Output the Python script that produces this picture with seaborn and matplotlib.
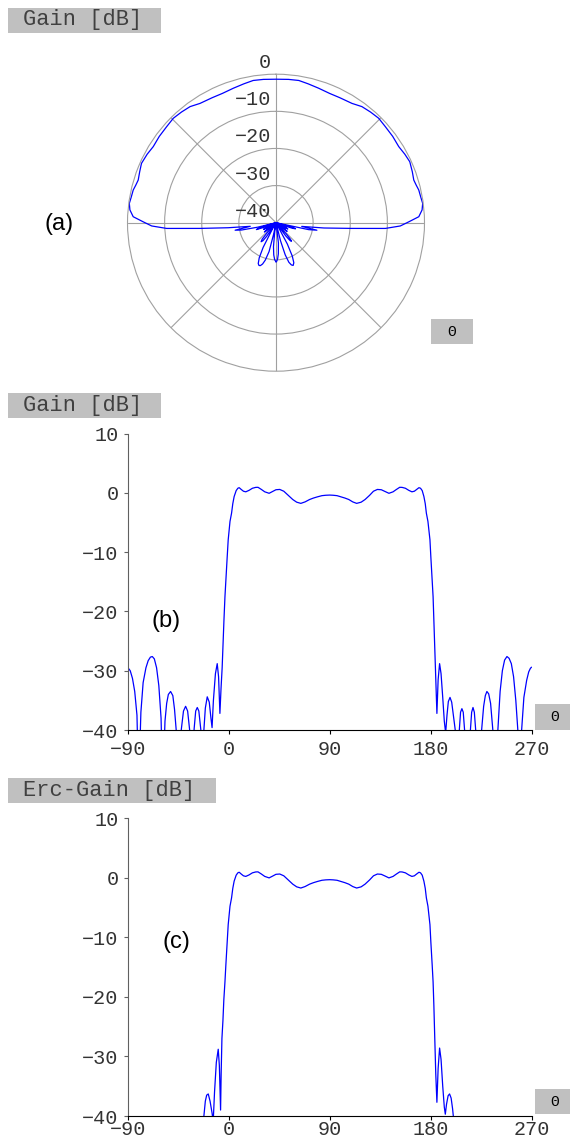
import numpy as np
import pandas as pd
import matplotlib
matplotlib.use("Agg")
import matplotlib.pyplot as plt
from matplotlib.patches import Rectangle
from matplotlib.transforms import offset_copy
import seaborn as sns

W, H = 570, 1141

# ---------------- data ----------------
# main beam, shared by (b) and (c)
main_theta = [-3.5, -2.7, -1.5, -0.6, 1.0, 2.4, 3.5, 4.7, 6.5, 8.0, 9.2, 11.0, 13.0, 15.1,
              18.0, 21.0, 24.0, 26.0, 29.0, 32.0, 35.9, 39.0, 42.0, 45.4, 49.0, 53.0, 57.0,
              60.5, 64.2, 68.0, 72.0, 75.5, 79.0, 83.0, 86.5, 90.0, 93.0, 96.5, 100.0, 103.5,
              107.0, 110.5, 114.0, 118.0, 121.5, 125.5, 129.0, 132.5, 136.0, 139.5, 142.8,
              146.5, 149.5, 152.4, 154.5, 157.5, 160.5, 163.3, 165.5, 167.5, 169.6, 171.0,
              172.5, 174.0, 175.2, 176.2, 177.6, 179.4, 180.2, 181.4, 182.2]
main_gain = [-17.5, -14.7, -10.8, -7.9, -4.8, -3.4, -1.8, -0.6, 0.4, 0.8, 0.9, 0.6, 0.3, 0.2,
             0.45, 0.8, 0.95, 0.96, 0.6, 0.2, -0.05, 0.25, 0.55, 0.6, 0.3, -0.4, -1.1,
             -1.55, -1.75, -1.5, -1.1, -0.85, -0.65, -0.45, -0.38, -0.35, -0.38, -0.45, -0.65, -0.85,
             -1.1, -1.5, -1.75, -1.55, -1.1, -0.4, 0.3, 0.6, 0.55, 0.25, -0.05,
             0.2, 0.6, 0.96, 0.95, 0.8, 0.45, 0.2, 0.3, 0.6, 0.9, 0.8,
             0.4, -0.6, -1.8, -3.4, -4.8, -7.9, -10.8, -14.7, -17.5]

# (b) side lobes
b_left_theta = [-90, -88, -86, -84, -82, -80.5, -78.5, -76.5, -74, -72, -70, -68.3, -66.5,
                -64.5, -62.5, -60.5, -59, -57, -55.5, -54, -52, -50, -48.5, -47, -45, -42.5,
                -40.5, -38.6, -36.8, -35, -33, -31, -29.6, -28.2, -26.8, -25, -23.5, -22.3,
                -21, -19.3, -17.5, -16, -15, -13.8, -12, -10.4, -9.2, -8, -7, -6, -5.2, -4.4]
b_left_gain = [-29.5, -30.0, -31.3, -33.5, -37.5, -50, -37, -32, -29.5, -28.3, -27.7, -27.6, -28.0,
               -29.5, -32.5, -38, -50, -38.5, -35.5, -34, -33.5, -34.2, -36.5, -40, -50, -40,
               -36.8, -36, -36.8, -40, -50, -39.8, -36.8, -36.2, -36.8, -40, -50, -40,
               -36.3, -34.4, -35.3, -38, -39.6, -35, -30.5, -28.8, -31, -37.2, -33, -29.5, -25.5, -21.5]
b_right_theta = [182.9, 183.7, 184.6, 185.6, 186.7, 188.0, 189.3, 190.8, 192.2, 193.4, 194.6,
                 195.8, 197.3, 198.8, 200.5, 202.3, 204.0, 205.6, 206.7, 207.9, 209.1, 210.3,
                 212.5, 215.5, 216.6, 217.8, 219.0, 220.2, 222.5, 225.5, 227.3, 228.8, 230.2,
                 231.8, 233.5, 235.5, 237.5, 240.0, 242.0, 244.0, 246.0, 248.1, 250.0, 252.0,
                 254.0, 256.0, 257.8, 259.5, 261.2, 263.2, 265.7, 267.5, 269.0, 270.0]
b_right_gain = [-21.5, -26, -31, -37.2, -31.5, -28.8, -30.5, -34.5, -38.5, -40.5, -37.5,
                -35.2, -34.5, -35.3, -37.8, -40.5, -50, -40, -37, -36.4, -37, -40,
                -50, -40, -37, -36.2, -37, -40, -50, -40, -36, -34.2, -33.5,
                -33.9, -35.5, -40, -50, -40, -33.5, -30, -28.2, -27.6, -27.9, -28.8,
                -31, -35, -40, -50, -40, -34.5, -31.6, -30.2, -29.6, -29.4]

# (c) side lobes
c_left_theta = [-24, -22.3, -21, -19.8, -18.4, -16.8, -15, -14, -12.8, -11.2, -9.5, -8.5,
                -7.4, -6.9, -6.2, -5.3, -4.5]
c_left_gain = [-50, -40, -37.5, -36.5, -36.3, -37.5, -39.5, -41, -36, -31, -28.8, -31.5,
               -39, -33, -27, -24, -20.5]
c_right_theta = [182.9, 183.7, 184.6, 185.6, 186.7, 188.0, 189.3, 190.8, 192.2, 193.1, 194.2,
                 195.6, 196.9, 198.3, 199.6, 200.5, 202.0]
c_right_gain = [-21.5, -27, -33, -37.7, -32, -28.6, -30.5, -35, -38.5, -39.7, -38,
                -36.6, -36.3, -37, -38.8, -40.5, -50]

# (a) polar main beam (between the side-lobe parts of (b))
a_main_theta = [-10.4, -8, -6, -4.3, -3, -1.5, 0.4, 2.4, 5, 7.5, 10, 12.9, 15, 17.2, 20.5,
                23.8, 28, 31.8, 36.5, 41.3, 45.5, 49.5, 53.5, 57.5, 63, 67.5, 72.4, 77,
                80.9, 85, 90, 95, 99.1, 103, 107.6, 112.5, 117, 122.5, 126.5, 130.5, 134.5,
                138.7, 143.5, 148.2, 152, 155.5, 159.5, 162.8, 165, 167.1, 170, 172.5, 175,
                177.6, 179.6, 181.5, 183, 184.3, 186.3, 188.2, 190.4, 192, 193.4]
a_main_gain = [-28.8, -33, -27, -19.5, -10.5, -6.5, -4.2, -1.5, -0.5, -0.15, -0.4, -0.55, -0.9,
               -1.15, -0.8, -0.4, -0.7, -1.1, -0.9, -0.8, -0.55, -0.8, -1.1, -1.9, -2.2, -2.3,
               -2.0, -1.6, -1.2, -1.25, -1.35, -1.25, -1.2, -1.6, -2.0, -2.3, -2.2, -1.9, -1.1,
               -0.8, -0.55, -0.8, -0.9, -1.1, -0.7, -0.4, -0.8, -1.15, -0.9, -0.55, -0.4,
               -0.15, -0.5, -1.5, -4.2, -6.5, -10.5, -19.5, -27, -33, -28.8, -31, -40]

x_ticks = [-90, 0, 90, 180, 270]
y_ticks = [-40, -30, -20, -10, 0, 10]
r_ticks = [0, -10, -20, -30, -40]

theta_b = b_left_theta + main_theta + b_right_theta
gain_b = b_left_gain + main_gain + b_right_gain
theta_c = c_left_theta + main_theta + c_right_theta
gain_c = c_left_gain + main_gain + c_right_gain
theta_a = b_left_theta[:45] + a_main_theta + b_right_theta[11:]
gain_a = b_left_gain[:45] + a_main_gain + b_right_gain[11:]

# ---------------- figure ----------------
sns.set_style("white")
plt.rcParams["font.family"] = ["Liberation Mono", "DejaVu Sans"]
plt.rcParams["axes.unicode_minus"] = True

fig = plt.figure(figsize=(5.7, 11.41), dpi=100)
LINE = "#0000ff"
TXT = "#333333"


def rect_px(x0, y0, x1, y1):
    return [x0 / W, 1 - y1 / H, (x1 - x0) / W, (y1 - y0) / H]


def gray_box(x0, y0, x1, y1, text, size, left_pad=None):
    fig.add_artist(Rectangle((x0 / W, 1 - y1 / H), (x1 - x0) / W, (y1 - y0) / H,
                             transform=fig.transFigure, fc="#c0c0c0", ec="none", zorder=1))
    yc = 1 - (y0 + y1) / 2 / H
    if left_pad is None:
        fig.text((x0 + x1) / 2 / W, yc, text, ha="center", va="center", fontsize=size,
                 color="black", zorder=2)
    else:
        fig.text((x0 + left_pad) / W, yc, text, ha="left", va="center", fontsize=size,
                 color="#404040", zorder=2)


# ---- (a) polar ----
axp = fig.add_axes(rect_px(127.5, 74.2, 424.5, 371.2), projection="polar")
axp.set_theta_zero_location("N")
axp.set_theta_direction(-1)
pol_df = pd.DataFrame({"ang": np.radians(np.array(theta_a) - 90.0),
                       "r": np.clip(np.array(gain_a), -40, None)})
sns.lineplot(data=pol_df, x="ang", y="r", ax=axp, color=LINE, lw=0.9, sort=False,
             estimator=None)
axp.set_ylim(-40, 0)
axp.set_yticks([-30, -20, -10])
axp.set_xticks(np.radians(np.arange(0, 360, 45)))
axp.set_xticklabels([])
axp.set_yticklabels([])
axp.set_xlabel("")
axp.set_ylabel("")
axp.grid(True, color="#a0a0a0", lw=0.8)
axp.spines["polar"].set_color("#a0a0a0")
axp.spines["polar"].set_linewidth(0.8)
lab_tr = offset_copy(axp.transData, fig=fig, x=-5, y=6, units="dots")
for rv in r_ticks:
    axp.text(0, rv, f"{rv}".replace("-", "\u2212"), transform=lab_tr, ha="right",
             va="baseline", fontsize=14.5, color=TXT)


# ---- (b), (c) rectangular ----
def rect_panel(rect, theta, gain, xpad):
    ax = fig.add_axes(rect)
    df = pd.DataFrame({"theta": theta, "gain": gain})
    sns.lineplot(data=df, x="theta", y="gain", ax=ax, color=LINE, lw=0.9, sort=False,
                 estimator=None)
    ax.set_xlim(-90, 270)
    ax.set_ylim(-40, 10)
    ax.set_xticks(x_ticks)
    ax.set_yticks(y_ticks)
    ax.set_xlabel("")
    ax.set_ylabel("")
    ax.spines["top"].set_visible(False)
    ax.spines["right"].set_visible(False)
    ax.spines["left"].set_color("#606060")
    ax.spines["bottom"].set_color("black")
    ax.spines["left"].set_linewidth(0.8)
    ax.spines["bottom"].set_linewidth(0.8)
    ax.tick_params(axis="x", bottom=True, direction="out", length=3, width=0.8,
                   color="black", labelsize=14.5, labelcolor=TXT, pad=xpad)
    ax.tick_params(axis="y", left=True, direction="out", length=3, width=0.8,
                   color="#606060", labelsize=14.5, labelcolor=TXT, pad=3.9)
    ax.patch.set_alpha(0)
    return ax


rect_panel(rect_px(128, 433.75, 531.5, 730), theta_b, gain_b, 4)
rect_panel(rect_px(128, 818, 531.5, 1116), theta_c, gain_c, 0.2)

# ---- labels and boxes ----
gray_box(8.3, 7.5, 160.7, 32.5, "Gain [dB]", 15.8, left_pad=14.4)
gray_box(8.3, 393.3, 160.7, 418.3, "Gain [dB]", 15.8, left_pad=14.4)
gray_box(8.3, 778.3, 216, 803.3, "Erc-Gain [dB]", 15.8, left_pad=14.4)
gray_box(431, 319.3, 472.7, 344.3, "\u0398", 10.5)
gray_box(535, 704.3, 575, 730, "\u0398", 10.5)
gray_box(535, 1089.3, 575, 1114.3, "\u0398", 10.5)

for txt, x, y in [("(a)", 59, 224), ("(b)", 166, 621), ("(c)", 176, 942)]:
    fig.text(x / W, 1 - y / H, txt, ha="center", va="center", fontsize=17,
             family="Liberation Sans", color="black")

fig.savefig("out.png", dpi=100)
